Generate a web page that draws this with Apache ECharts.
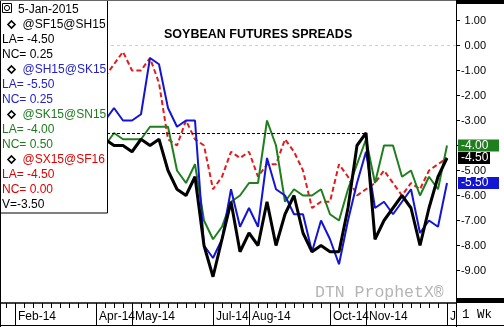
<!DOCTYPE html>
<html><head><meta charset="utf-8">
<script src="https://cdn.jsdelivr.net/npm/echarts@6/dist/echarts.min.js"></script>
<style>html,body{margin:0;padding:0;background:#fff}#c{width:504px;height:327px}</style>
</head><body><div id="c"></div>
<script>
// ---- data ----
const weeks = ['2014-01-06','2014-01-13','2014-01-20','2014-01-27','2014-02-03','2014-02-10','2014-02-17','2014-02-24',
  '2014-03-03','2014-03-10','2014-03-17','2014-03-24','2014-03-31','2014-04-07','2014-04-14','2014-04-21','2014-04-28',
  '2014-05-05','2014-05-12','2014-05-19','2014-05-26','2014-06-02','2014-06-09','2014-06-16','2014-06-23','2014-06-30',
  '2014-07-07','2014-07-14','2014-07-21','2014-07-28','2014-08-04','2014-08-11','2014-08-18','2014-08-25','2014-09-01',
  '2014-09-08','2014-09-15','2014-09-22','2014-09-29','2014-10-06','2014-10-13','2014-10-20','2014-10-27','2014-11-03',
  '2014-11-10','2014-11-17','2014-11-24','2014-12-01','2014-12-08','2014-12-15','2014-12-22','2014-12-29','2015-01-05','2015-01-12'];
const monthLabelWeeks = ['2014-02-03','2014-04-07','2014-05-05','2014-07-07','2014-08-04','2014-10-06','2014-11-03','2015-01-05'];
const monthLabels = ['Feb-14','Apr-14','May-14','Jul-14','Aug-14','Oct-14','Nov-14','Jan-15'];
const seriesNames = ['@SF15@SH15','@SH15@SK15','@SK15@SN15','@SX15@SF16'];
const N = null;
// weeks before mid-April are hidden behind the legend box in the reference
const sfsh = [N,N,N,N,N,N,N,N,N,N,N,N,N,N,
  -3.75,-4.0,-4.0,-4.25,-3.75,-4.0,-3.75,-5.0,-5.75,-6.0,-5.25,-8.0,-9.25,-7.75,-6.25,-8.25,-7.5,-8.0,-6.25,-8.0,
  -6.75,-6.0,-7.5,-8.25,-8.0,-8.25,-8.25,-6.5,-4.0,-3.5,-7.75,-7.0,-6.5,-6.0,-6.5,-8.0,-6.5,-5.25,-4.5];
const shsk = [N,N,N,N,N,N,N,N,N,N,N,N,N,N,
  -3.0,-2.5,-3.0,-3.0,-2.75,-0.5,-0.75,-2.5,-3.25,-3.0,-3.0,-8.0,-8.5,-7.75,-5.75,-7.25,-6.5,-7.25,-4.5,-5.75,
  -6.0,-6.75,-6.75,-8.25,-7.0,-7.75,-8.75,-7.0,-5.5,-4.25,-6.5,-6.25,-6.75,-6.25,-5.75,-7.5,-7.0,-7.25,-5.5];
const sksn = [N,N,N,N,N,N,N,N,N,N,N,N,N,N,
  -4.0,-3.5,-3.75,-3.75,-3.75,-3.25,-3.25,-3.25,-5.0,-5.5,-4.75,-7.0,-7.75,-7.25,-6.25,-6.0,-5.5,-5.5,-3.0,-4.0,
  -6.25,-5.75,-6.0,-6.0,-5.75,-6.75,-7.0,-5.75,-4.75,-3.75,-5.5,-4.0,-4.0,-5.25,-5.0,-6.0,-5.25,-5.75,-4.0];
const sxsf = [N,N,N,N,N,N,N,N,N,N,N,N,N,N,
  -1.25,-0.75,-0.25,-1.0,-1.0,-0.5,-1.5,-3.75,-4.0,-3.0,-3.75,-4.0,-5.75,-5.25,-4.25,-4.5,-4.25,-5.25,-4.75,-4.75,
  -3.75,-4.25,-5.0,-6.5,-6.25,-6.25,-4.75,-5.25,-6.0,-5.75,-5.5,-5.0,-5.5,-6.0,-5.5,-5.75,-5.0,-4.75,-4.5];
const netChange = [0.25, 0.25, 0.50, 0.00];
const refLineValue = -3.5;
const refLineWeeks = ['2014-03-31', '2014-11-03'];
const asOfDate = '5-Jan-2015';
const yMin = -10, yMax = 2, yStep = 1;

// ---- styles ----
const FONT = 'Liberation Sans, Arial, sans-serif';
const colors = ['#000000', '#1414d4', '#1f7f1f', '#e01c1c'];
const textColors = ['#000000', '#2222cc', '#1f7a1f', '#e00000'];
const allData = [sfsh, shsk, sksn, sxsf];
function lastVal(a){ for (let i=a.length-1;i>=0;i--) if (a[i]!=null) return a[i]; return null; }
const fmt = v => v.toFixed(2);

function box(value, col, w){
  return { yAxis: value, lineStyle:{color:'rgba(0,0,0,0)', width:0, opacity:1},
    label:{show:true, position:'end', distance:2, formatter: fmt(value), color:'#fff', backgroundColor:col, opacity:1,
      fontSize:12, fontFamily:FONT, width:w, height:12, lineHeight:12, padding:[0,0,0,3], align:'left'} };
}
const mlBase = {symbol:['none','none'], silent:true, animation:false, label:{show:false}};

const series = [
  {name: seriesNames[3], type:'line', data: sxsf, symbol:'none', z:2,
   lineStyle:{color:colors[3], width:2, type:[5,3]},
   markLine: Object.assign({}, mlBase, {data:[{yAxis:0, lineStyle:{color:'#cfcfcf', width:1, type:[3,3]}}]})},
  {name: seriesNames[2], type:'line', data: sksn, symbol:'none', z:3,
   lineStyle:{color:colors[2], width:2},
   markLine: Object.assign({}, mlBase, {data:[box(lastVal(sksn), colors[2], 38)]})},
  {name: seriesNames[1], type:'line', data: shsk, symbol:'none', z:4,
   lineStyle:{color:colors[1], width:2},
   markLine: Object.assign({}, mlBase, {data:[box(lastVal(shsk), colors[1], 38)]})},
  {name: seriesNames[0], type:'line', data: sfsh, symbol:'none', z:5,
   lineStyle:{color:colors[0], width:3},
   markLine: Object.assign({}, mlBase, {data:[
     [{coord:[refLineWeeks[0], refLineValue], lineStyle:{color:'#000', width:1, type:[3,2]}},
      {coord:[refLineWeeks[1], refLineValue]}],
     box(lastVal(sfsh), colors[0], 29)
   ]})}
];

// ---- legend box (graphic) ----
const rowY = i => 9.5 + 15*i;
const g = [];
g.push({type:'rect', z:50, shape:{x:0.5,y:0.5,width:107,height:212.5}, style:{fill:'#fff', stroke:'#000', lineWidth:1}});
g.push({type:'rect', z:51, shape:{x:2.5,y:3.5,width:9,height:9}, style:{fill:'#fff', stroke:'#000', lineWidth:1}});
g.push({type:'circle', z:51, shape:{cx:7,cy:8,r:2.6}, style:{fill:'none', stroke:'#000', lineWidth:1}});
g.push({type:'text', z:51, x:18, y:rowY(0), style:{text:asOfDate, fill:'#000', font:'12px '+FONT, verticalAlign:'middle'}});
seriesNames.forEach((nm, k) => {
  const r = 1 + 3*k;
  const cy = rowY(r);
  g.push({type:'polygon', z:51, shape:{points:[[11.5,cy-3.5],[15,cy],[11.5,cy+3.5],[8,cy]]}, style:{fill:'#fff', stroke:'#000', lineWidth:1.6}});
  g.push({type:'text', z:51, x:22.5, y:cy, style:{text:nm, fill:textColors[k], font:'12px '+FONT, verticalAlign:'middle'}});
  g.push({type:'text', z:51, x:2, y:rowY(r+1), style:{text:'LA= '+fmt(lastVal(allData[k])), fill:textColors[k], font:'12px '+FONT, verticalAlign:'middle'}});
  g.push({type:'text', z:51, x:2, y:rowY(r+2), style:{text:'NC= '+fmt(netChange[k]), fill:textColors[k], font:'12px '+FONT, verticalAlign:'middle'}});
});
g.push({type:'text', z:51, x:2, y:rowY(13), style:{text:'V='+fmt(refLineValue), fill:'#000', font:'12px '+FONT, verticalAlign:'middle'}});
// watermark
g.push({type:'text', z:1, x:315, y:293, style:{text:'DTN ProphetX\u00AE', fill:'#b4b4b4', font:'16.5px Liberation Mono, Courier New, monospace', verticalAlign:'middle'}});
// frame pieces
g.push({type:'line', z:60, shape:{x1:0.5,y1:0,x2:0.5,y2:327}, style:{stroke:'#000', lineWidth:1}});
g.push({type:'line', z:60, shape:{x1:0,y1:0.5,x2:504,y2:0.5}, style:{stroke:'#666', lineWidth:1}});
g.push({type:'line', z:60, shape:{x1:0,y1:325.5,x2:504,y2:325.5}, style:{stroke:'#000', lineWidth:1}});
g.push({type:'line', z:60, shape:{x1:456.5,y1:0,x2:456.5,y2:327}, style:{stroke:'#000', lineWidth:1}});
g.push({type:'rect', z:60, shape:{x:456,y:0,width:48,height:4}, style:{fill:'#000'}});
g.push({type:'rect', z:60, shape:{x:457,y:303,width:47,height:22}, style:{fill:'#fff'}});
g.push({type:'rect', z:60, shape:{x:456,y:298,width:48,height:5}, style:{fill:'#000'}});
g.push({type:'text', z:61, x:462, y:315, style:{text:'1 Wk', fill:'#000', font:'12.5px Liberation Mono, Courier New, monospace', verticalAlign:'middle'}});

const labelTest = (idx, val) => monthLabelWeeks.indexOf(val) >= 0;

const option = {
  animation:false,
  backgroundColor:'#fff',
  title:{text:'SOYBEAN FUTURES SPREADS', left:164, top:28.5, padding:0,
    textStyle:{fontSize:12.5, fontWeight:'bold', color:'#000', fontFamily:FONT}},
  grid:{left:-21, right:48, top:-4.5, bottom:31.5, containLabel:false, outerBoundsMode:'none'},
  xAxis:[
    {type:'category', data:weeks, boundaryGap:false, position:'bottom', offset:7.5,
     axisLine:{show:true, onZero:false, lineStyle:{color:'#000', width:1.5}},
     axisTick:{show:true, interval:0, length:5, lineStyle:{color:'#000'}},
     axisLabel:{show:false}, splitLine:{show:false}},
    {type:'category', data:weeks, boundaryGap:false, position:'bottom', offset:7.5,
     axisLine:{show:false, onZero:false},
     axisTick:{show:true, interval:labelTest, length:22, lineStyle:{color:'#000'}},
     axisLabel:{show:true, interval:labelTest, formatter: v => monthLabels[monthLabelWeeks.indexOf(v)] || '',
       align:'left', padding:[0,0,0,3], margin:8, fontSize:12, color:'#000', fontFamily:FONT,
       showMinLabel:true, showMaxLabel:true, hideOverlap:false},
     splitLine:{show:false}}
  ],
  yAxis:{type:'value', position:'right', min:yMin, max:yMax, interval:yStep,
    axisLine:{show:true, lineStyle:{color:'#000', width:1}},
    axisTick:{show:true, length:4, lineStyle:{color:'#000'}},
    axisLabel:{formatter: fmt, showMinLabel:false, showMaxLabel:false, fontSize:11, color:'#000',
      align:'right', margin:30, fontFamily:FONT},
    splitLine:{show:false}},
  series: series,
  graphic: g
};
const chart = echarts.init(document.getElementById('c'), null, {renderer:'canvas'});
chart.setOption(option);
</script></body></html>
